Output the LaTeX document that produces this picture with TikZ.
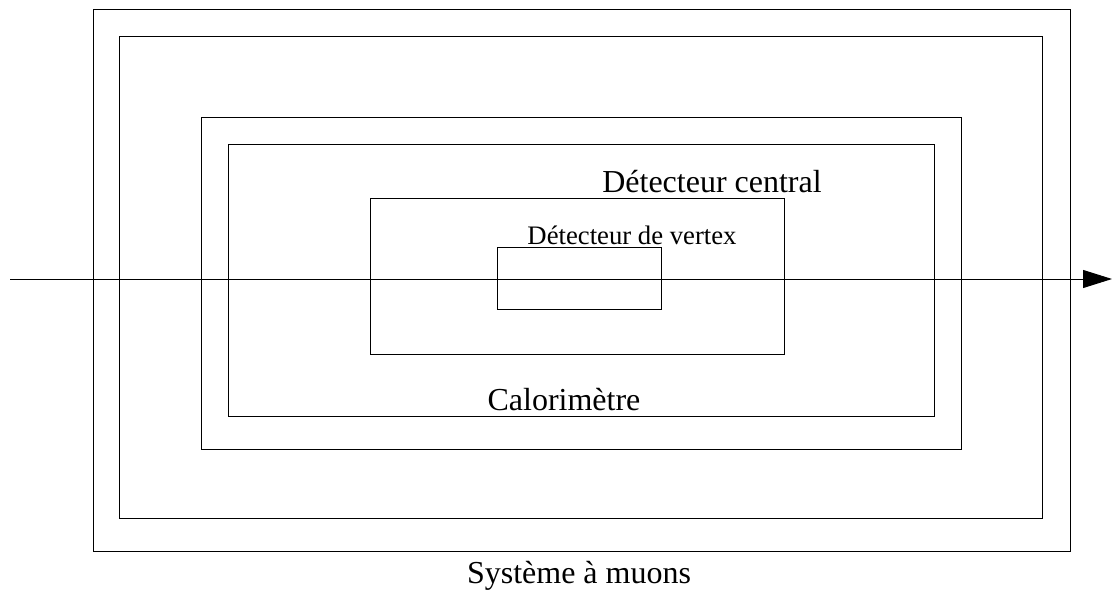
\documentclass[tikz,border=0pt]{standalone}
\usepackage{fontspec}
\setmainfont{Liberation Serif}
\usetikzlibrary{arrows.meta}
\begin{document}
\begin{tikzpicture}[x=1pt,y=-1pt,
  box/.style={draw,line width=1pt,inner sep=0pt},
  lbl/.style={anchor=base,inner sep=0pt,font=\fontsize{32}{38}\selectfont},
  slbl/.style={anchor=base,inner sep=0pt,font=\fontsize{26.7}{32}\selectfont}]
\useasboundingbox (0,0) rectangle (1112,599);
\draw[line width=1pt] (93,10) rectangle (1070,551);
\draw[line width=1pt] (119,37) rectangle (1042,518);
\draw[line width=1pt] (201,118) rectangle (961,449);
\draw[line width=1pt] (228,145) rectangle (934,416);
\draw[line width=1pt] (370,199) rectangle (784,354);
\draw[line width=1pt] (497,247) rectangle (661,309);
\coordinate (start) at (10,279);
\coordinate (end) at (1112,279);
\draw[line width=1pt,-{Triangle[length=29pt,width=18pt]}] (start) -- (end);
\node[lbl] (central) at (712,193) {Détecteur central};
\node[slbl] (vertex) at (632,244) {Détecteur de vertex};
\node[lbl] (calo) at (564,410) {Calorimètre};
\node[lbl] (muons) at (579,583) {Système à muons};
\end{tikzpicture}
\end{document}
